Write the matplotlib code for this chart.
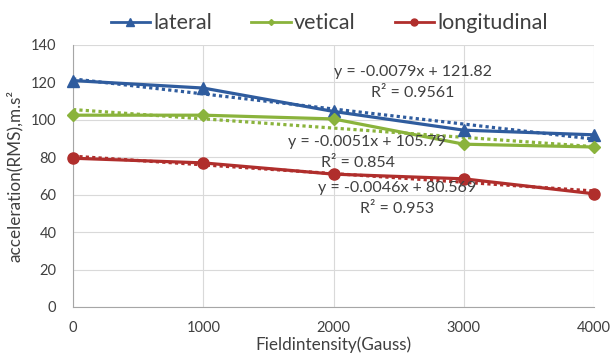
import numpy as np
import matplotlib
matplotlib.use("Agg")
import matplotlib.pyplot as plt
from matplotlib.lines import Line2D

plt.rcParams['font.family'] = ['Lato', 'DejaVu Sans']

field = [0, 1000, 2000, 3000, 4000]
lateral = [121, 117, 104.5, 94.5, 92]
vetical = [102.5, 102.5, 100.5, 87, 85.5]
longitudinal = [79.5, 77, 71, 68.5, 60.5]

series_names = ['lateral', 'vetical', 'longitudinal']
colors = ['#2F5C9E', '#8AB33C', '#B02E2C']
markers = ['^', 'D', 'o']
msizes = [9, 6, 8]
eq_texts = [("y = -0.0079x + 121.82", "R² = 0.9561"),
            ("y = -0.0051x + 105.79", "R² = 0.854"),
            ("y = -0.0046x + 80.569", "R² = 0.953")]

fig = plt.figure(figsize=(6.11, 3.6), dpi=100)
ax = fig.add_axes([73 / 611, 1 - 307 / 360, 521 / 611, 262 / 360])

x = np.array(field, dtype=float)
for ys, c, m, ms in zip([lateral, vetical, longitudinal], colors, markers, msizes):
    ax.plot(x, ys, color=c, marker=m, markersize=ms, linewidth=2.3, zorder=3, clip_on=False)
    k, b = np.polyfit(x, ys, 1)
    ax.plot(x, k * x + b, color=c, linestyle=(0, (1, 1)), linewidth=2.3, zorder=2)

# equation annotations
tk = dict(ha='center', va='center', fontsize=11.5, color='#404040', zorder=4)
ax.text(2610, 125.5, eq_texts[0][0], **tk)
ax.text(2610, 114.5, eq_texts[0][1], **tk)
ax.text(2257, 88.3, eq_texts[1][0], **tk)
ax.text(2188, 77, eq_texts[1][1], **tk)
ax.text(2488, 63.6, eq_texts[2][0], **tk)
ax.text(2488, 52.4, eq_texts[2][1], **tk)

ax.set_xlim(0, 4000)
ax.set_ylim(0, 140)
ax.set_xticks(field)
ax.set_yticks(np.arange(0, 141, 20))
ax.grid(True, color='#D9D9D9', linewidth=0.8)
ax.set_axisbelow(True)
for s in ['top', 'right']:
    ax.spines[s].set_visible(False)
for s in ['left', 'bottom']:
    ax.spines[s].set_color('#A6A6A6')
ax.tick_params(length=0, labelsize=10.5, colors='#404040')
ax.tick_params(axis='x', pad=10)
ax.tick_params(axis='y', pad=12)
ax.set_xlabel('Fieldintensity(Gauss)', fontsize=12.3, color='#404040', labelpad=1)
ax.set_ylabel('acceleration(RMS),m.s²', fontsize=12.3, color='#404040', labelpad=6)

handles = [Line2D([0], [0], color=c, marker=m, markersize=ms - 3, linewidth=2)
           for c, m, ms in zip(colors, markers, msizes)]
fig.legend(handles, series_names, loc='center', bbox_to_anchor=(0.539, 0.936), ncol=3,
           frameon=False, fontsize=15.5, handlelength=1.85, handletextpad=0.15, columnspacing=1.8,
           labelcolor='#404040', borderpad=0)

fig.savefig('out.png', dpi=100)
